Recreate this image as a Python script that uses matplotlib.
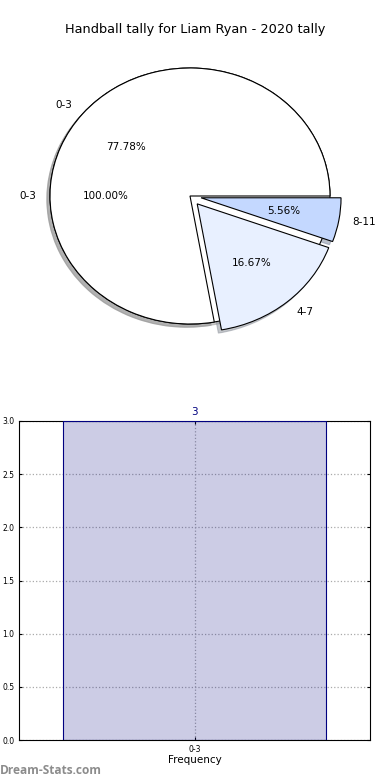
import matplotlib
matplotlib.use('Agg')
import matplotlib.pyplot as plt

title = 'Handball tally for Liam Ryan - 2020 tally'

# full-range pie underneath (one slice)
allLabels = ['0-3']
allValues = [18]

# per-bracket pie on top (counts)
labels = ['0-3', '4-7', '8-11']
values = [14, 3, 1]
explode = [0, 0.08, 0.08]
colors = ['#ffffff', '#e8f0ff', '#c4d8ff']

# bar chart
barLabels = ['0-3']
barValues = [3]

fig = plt.figure(figsize = (3.9, 7.8), dpi = 100)
fig.text(0.5, 1 - 30 / 780, title, ha = 'center', va = 'center', fontsize = 9.3)

shadowStyle = dict(ox = -0.016, oy = -0.018, shade = 0.4)
ax1 = fig.add_axes([15 / 390, 1 - 356 / 780, 350 / 390, 320 / 780])
ax1.pie(allValues, labels = allLabels, colors = ['#ffffff'], autopct = '%1.2f%%', shadow = shadowStyle,
 wedgeprops = dict(edgecolor = 'black', linewidth = 0.8), textprops = dict(fontsize = 7.5))
ax1.pie(values, labels = labels, colors = colors, explode = explode, autopct = '%1.2f%%', shadow = shadowStyle,
 wedgeprops = dict(edgecolor = 'black', linewidth = 0.8), textprops = dict(fontsize = 7.5))
ax1.set_aspect('auto')
ax1.set_xlim(-1.25, 1.25)
ax1.set_ylim(-1.25, 1.25)

ax2 = fig.add_axes([19 / 390, 40 / 780, 351 / 390, 319 / 780])
xs = range(len(barLabels))
ax2.bar(xs, barValues, width = 0.75, color = 'navy', alpha = 0.2, zorder = 2)
ax2.bar(xs, barValues, width = 0.75, fill = False, edgecolor = 'navy', linewidth = 0.8, zorder = 3)
for x, v in zip(xs, barValues):
 ax2.text(x, v + 0.04, str(v), ha = 'center', va = 'bottom', color = 'navy', fontsize = 7.5)
ax2.set_xlim(-0.5, len(barLabels) - 0.5)
ax2.set_ylim(0, 3)
ax2.set_yticks([0, 0.5, 1.0, 1.5, 2.0, 2.5, 3.0])
ax2.set_xticks(list(xs))
ax2.set_xticklabels(barLabels)
ax2.tick_params(labelsize = 5.5, length = 2, direction = 'in', right = True, top = True)
ax2.grid(True, linestyle = ':', color = '#aaaaaa', linewidth = 0.9, zorder = 0)
ax2.set_axisbelow(True)
ax2.set_xlabel('Frequency', fontsize = 7.5, labelpad = 1)

fig.text(0, 1 - 770 / 780, 'Dream-Stats.com', ha = 'left', va = 'center', fontsize = 8.6,
 color = '#8c8c8c', fontweight = 'bold', family = 'Open Sans')

fig.savefig('out.png', dpi = 100)
